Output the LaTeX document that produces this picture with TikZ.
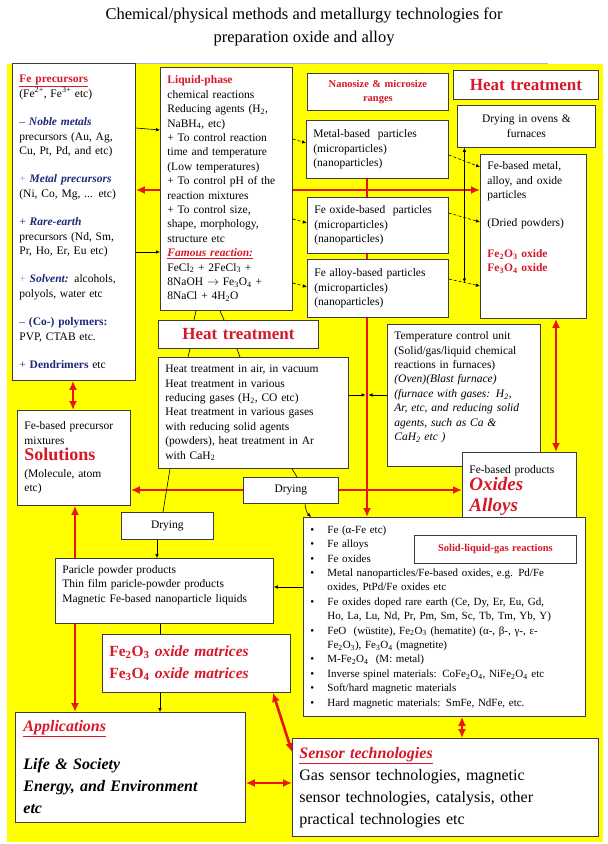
\documentclass[tikz,border=0pt]{standalone}
\usepackage{fontspec}
\setmainfont{Liberation Serif}
\usetikzlibrary{arrows.meta,positioning,backgrounds}
\definecolor{bgyellow}{RGB}{255,255,0}
\definecolor{hdred}{RGB}{214,24,40}
\definecolor{arrred}{RGB}{235,20,20}
\definecolor{navyblue}{RGB}{30,40,120}
\definecolor{boxline}{RGB}{60,60,60}
\definecolor{ruleblue}{RGB}{170,180,205}

\begin{document}
\begin{tikzpicture}[x=1pt,y=-1pt,
    box/.style={draw=boxline,line width=0.8pt,fill=white,anchor=north west,align=left,
      inner xsep=7pt,inner ysep=4pt,font=\fontsize{11.5}{14.4}\selectfont},
    cbox/.style={box,align=center},
    big/.style={font=\fontsize{17}{20}\selectfont\bfseries,text=hdred},
    redarr/.style={{Latex[length=9pt,width=8pt]}-{Latex[length=9pt,width=8pt]},line width=2.6pt,draw=arrred},
    redto/.style={-{Latex[length=9pt,width=8pt]},line width=2.6pt,draw=arrred},
    arrow/.style={-{Latex[length=4pt,width=3.5pt]},line width=0.6pt},
    biarrow/.style={{Latex[length=4pt,width=3.5pt]}-{Latex[length=4pt,width=3.5pt]},line width=0.6pt},
    darrow/.style={arrow,densely dashed},
    link/.style={line width=0.6pt}
  ]
  \useasboundingbox (0,0) rectangle (608,844);

  % title
  \node[font=\fontsize{16.5}{23}\selectfont,align=center] (title) at (304,27)
    {Chemical/physical methods and metallurgy technologies for\\preparation oxide and alloy};

  % left column
  \node[box,minimum width=123pt,text width=109pt,minimum height=317pt] (prec) at (12,63) {
    \textcolor{hdred}{\textbf{\underline{Fe precursors}}}\\
    (Fe\textsuperscript{2+}, Fe\textsuperscript{3+} etc)\\[14pt]
    \textcolor{navyblue}{-- \textbf{\textit{Noble metals}}}\\
    precursors (Au, Ag,\\
    Cu, Pt, Pd, and etc)\\[14pt]
    \textcolor{navyblue}{\textcolor{navyblue!45}{+} \textbf{\textit{Metal precursors}}}\\
    (Ni, Co, Mg, ... etc)\\[14pt]
    \textcolor{navyblue}{+ \textbf{\textit{Rare-earth}}}\\
    precursors (Nd, Sm,\\
    Pr, Ho, Er, Eu etc)\\[14pt]
    \textcolor{navyblue}{\textcolor{navyblue!45}{+} \textbf{\textit{Solvent:}}} alcohols,\\
    polyols, water etc\\[14pt]
    \textcolor{navyblue}{-- \textbf{(Co-) polymers:}}\\
    PVP, CTAB etc.\\[14pt]
    \textcolor{navyblue}{+ \textbf{Dendrimers}} etc};
  \node[box,minimum width=113pt,text width=99pt,minimum height=95pt] (solut) at (17,410) {
    Fe-based precursor\\
    mixtures\\[2pt]
    {\fontsize{18}{20}\selectfont\bfseries\color{hdred}Solutions}\\[2pt]
    (Molecule, atom\\
    etc)};

  % liquid phase
  \node[box,minimum width=132pt,text width=118pt,minimum height=243pt] (liq) at (160,67) {
    \textcolor{hdred}{\textbf{Liquid-phase}}\\
    chemical reactions\\
    Reducing agents (H\textsubscript{2},\\
    NaBH\textsubscript{4}, etc)\\
    + To control reaction\\
    time and temperature\\
    (Low temperatures)\\
    + To control pH of the\\
    reaction mixtures\\
    + To control size,\\
    shape, morphology,\\
    structure etc\\
    \textcolor{hdred}{\textbf{\textit{\underline{Famous reaction:}}}}\\
    FeCl\textsubscript{2} + 2FeCl\textsubscript{3} +\\
    8NaOH $\rightarrow$ Fe\textsubscript{3}O\textsubscript{4} +\\
    8NaCl + 4H\textsubscript{2}O};

  % particle ranges
  \node[cbox,minimum width=141pt,text width=127pt,minimum height=37pt,
    font=\fontsize{10.5}{14}\selectfont\bfseries,text=hdred] (nano) at (307,73)
    {Nanosize \& microsize\\ranges};
  \node[box,minimum width=142pt,text width=128pt,minimum height=58pt] (metalp) at (306,120)
    {Metal-based\ \ particles\\(microparticles)\\(nanoparticles)};
  \node[box,minimum width=141pt,text width=127pt,minimum height=56pt] (feox) at (307,197)
    {Fe oxide-based\ \ particles\\(microparticles)\\(nanoparticles)};
  \node[box,minimum width=141pt,text width=127pt,minimum height=58pt] (fealloy) at (307,259)
    {Fe alloy-based particles\\(microparticles)\\(nanoparticles)};

  % right column
  \node[cbox,big,minimum width=145pt,text width=131pt,minimum height=29pt] (heattop) at (453,70)
    {Heat treatment};
  \node[cbox,minimum width=138pt,text width=124pt,minimum height=42pt] (dryoven) at (457,105)
    {Drying in ovens \&\\furnaces};
  \node[box,minimum width=106pt,text width=92pt,minimum height=164pt] (febased) at (480,154) {
    Fe-based metal,\\
    alloy, and oxide\\
    particles\\[14pt]
    (Dried powders)\\[16pt]
    \textcolor{hdred}{\textbf{Fe\textsubscript{2}O\textsubscript{3} oxide}}\\
    \textcolor{hdred}{\textbf{Fe\textsubscript{3}O\textsubscript{4} oxide}}\\[25pt]\mbox{}};

  % heat treatment
  \node[cbox,big,minimum width=160pt,text width=146pt,minimum height=28pt] (heatlbl) at (158,320)
    {Heat treatment};
  \node[box,minimum width=190pt,text width=176pt,minimum height=111pt] (heatbox) at (158,357) {
    Heat treatment in air, in vacuum\\
    Heat treatment in various\\
    reducing gases (H\textsubscript{2}, CO etc)\\
    Heat treatment in various gases\\
    with reducing solid agents\\
    (powders), heat treatment in Ar\\
    with CaH\textsubscript{2}};
  \node[box,minimum width=153pt,text width=139pt,minimum height=142pt] (tempbox) at (387,324) {
    Temperature control unit\\
    (Solid/gas/liquid chemical\\
    reactions in furnaces)\\
    \textit{(Oven)(Blast furnace)}\\
    \textit{(furnace with gases: H\textsubscript{2},}\\
    \textit{Ar, etc, and reducing solid}\\
    \textit{agents, such as Ca \&}\\
    \textit{CaH\textsubscript{2} etc )}\\[4pt]\mbox{}};
  \node[box,minimum width=114pt,text width=100pt,minimum height=76pt] (febprod) at (462,452) {
    Fe-based products\\[1pt]
    {\fontsize{19}{22}\selectfont\bfseries\itshape\color{hdred}Oxides}\\[6pt]
    {\fontsize{19}{22}\selectfont\bfseries\itshape\color{hdred}Alloys}};

  % drying and products
  \node[cbox,minimum width=95pt,text width=81pt,minimum height=26pt] (dry1) at (243,477) {Drying};
  \node[cbox,minimum width=92pt,text width=78pt,minimum height=27pt] (dry2) at (121,512) {Drying};
  \node[box,minimum width=218pt,text width=204pt,minimum height=65pt] (ppbox) at (55,558) {
    Paricle powder products\\
    Thin film paricle-powder products\\
    Magnetic Fe-based nanoparticle liquids\\\mbox{}};
  \node[box,minimum width=188pt,text width=174pt,minimum height=58pt,
    font=\fontsize{15.5}{22}\selectfont\bfseries,text=hdred] (matrix) at (102,634) {
    Fe\textsubscript{2}O\textsubscript{3} \textit{oxide matrices}\\
    Fe\textsubscript{3}O\textsubscript{4} \textit{oxide matrices}};
  \node[box,minimum width=282pt,text width=268pt,minimum height=199pt,
    font=\fontsize{11}{14.4}\selectfont] (bullets) at (303,517) {
    \begin{tabular}{@{}p{17pt}@{}l@{}}
    \textbullet & Fe (α-Fe etc)\\
    \textbullet & Fe alloys\\
    \textbullet & Fe oxides\\
    \textbullet & Metal nanoparticles/Fe-based oxides, e.g. Pd/Fe\\
     & oxides, PtPd/Fe oxides etc\\
    \textbullet & Fe oxides doped rare earth (Ce, Dy, Er, Eu, Gd,\\
     & Ho, La, Lu, Nd, Pr, Pm, Sm, Sc, Tb, Tm, Yb, Y)\\
    \textbullet & FeO\ \ (wüstite), Fe\textsubscript{2}O\textsubscript{3} (hematite) (α-, β-, γ-, ε-\\
     & Fe\textsubscript{2}O\textsubscript{3}), Fe\textsubscript{3}O\textsubscript{4} (magnetite)\\
    \textbullet & M-Fe\textsubscript{2}O\textsubscript{4}\ \ (M: metal)\\
    \textbullet & Inverse spinel materials: CoFe\textsubscript{2}O\textsubscript{4}, NiFe\textsubscript{2}O\textsubscript{4} etc\\
    \textbullet & Soft/hard magnetic materials\\
    \textbullet & Hard magnetic materials: SmFe, NdFe, etc.
    \end{tabular}};
  \node[cbox,minimum width=162pt,text width=148pt,minimum height=28pt,
    font=\fontsize{10.5}{14}\selectfont\bfseries,text=hdred] (slg) at (414,535)
    {Solid-liquid-gas reactions};

  % bottom row
  \node[box,minimum width=230pt,text width=214pt,minimum height=110pt,
    font=\fontsize{16}{22}\selectfont\bfseries\itshape] (apps) at (15,712) {
    \textcolor{hdred}{\underline{Applications}}\\[16pt]
    Life \& Society\\
    Energy, and Environment\\
    etc};
  \node[box,minimum width=306pt,text width=292pt,minimum height=98pt,
    font=\fontsize{16}{22}\selectfont] (sensor) at (292,738) {
    \textcolor{hdred}{\textbf{\textit{\underline{Sensor technologies}}}}\\
    Gas sensor technologies, magnetic\\
    sensor technologies, catalysis, other\\
    practical technologies etc};

  % thick red links, behind the boxes
  \begin{scope}[on background layer]
    \fill[bgyellow] (7,64) rectangle (603,842);
    \draw[ruleblue,line width=0.6pt] (64,63) -- (548,63);
    \draw[redarr] (prec.east |- 0,190) -- (febased.west |- 0,190);
    \draw[redto] (metalp.south -| 367,0) -- (bullets.north -| 367,0);
    \draw[redarr] (febased.south -| 556,0) -- (febprod.north -| 556,0);
    \draw[redarr] (solut.east |- 0,490) -- (febprod.west |- 0,490);
    \draw[redarr] (prec.south -| 73,0) -- (solut.north -| 73,0);
    \draw[redarr] (solut.south -| 75,0) -- (apps.north -| 75,0);
    \draw[redarr] (matrix.south -| 273,0) -- (sensor.west |- 0,752);
    \draw[redarr] (apps.east |- 0,783) -- (sensor.west |- 0,783);
    \draw[redarr] (bullets.south -| 462,0) -- (sensor.north -| 462,0);
  \end{scope}

  % thin black links
  \draw[arrow] (prec.east |- 0,128) -- (liq.west |- 0,130);
  \draw[arrow] (prec.east |- 0,252) -- (liq.west |- 0,252);
  \draw[darrow] (liq.east |- 0,139) -- (metalp.west |- 0,143);
  \draw[darrow] (liq.east |- 0,219) -- (feox.west |- 0,223);
  \draw[darrow] (liq.east |- 0,283) -- (fealloy.west |- 0,287);
  \draw[darrow] (metalp.east |- 0,155) -- (febased.west |- 0,167);
  \draw[darrow] (feox.east |- 0,213) -- (febased.west |- 0,222);
  \draw[darrow] (fealloy.east |- 0,279) -- (febased.west |- 0,286) coordinate[pos=0.5] (dmid);
  \draw[biarrow] (dryoven.south -| dmid) -- (dmid);
  \draw[link] (liq.south -| 196,0) -- (heatlbl.north -| 194,0);
  \draw[link] (liq.south -| 220,0) -- (heatlbl.north -| 224,0);
  \draw[link] (heatlbl.south -| 190,0) -- (heatbox.north -| 188,0);
  \draw[link] (heatlbl.south -| 237,0) -- (heatbox.north -| 240,0);
  \coordinate (hx) at (367,395);
  \draw[arrow] (heatbox.east |- hx) -- ([xshift=-1.5pt]hx);
  \draw[arrow] (tempbox.west |- hx) -- ([xshift=1.5pt]hx);
  \draw[link] (heatbox.south -| 170,0) -- (dry2.north -| 163,0);
  \draw[link] (heatbox.south -| 292,0) -- (dry1.north -| 297,0);
  \draw[arrow] (dry1.south -| 305,0) to[bend right=20] (bullets.north -| 311,0);
  \draw[arrow] (dry2.south -| 157,0) -- (ppbox.north -| 157,0);
  \draw[arrow] (bullets.west |- 0,587) -- (ppbox.east |- 0,587);
  \draw[link] (ppbox.south -| 160,0) -- (matrix.north -| 160,0);
  \draw[arrow] (matrix.south -| 160,0) -- (apps.north -| 160,0);
\end{tikzpicture}
\end{document}
